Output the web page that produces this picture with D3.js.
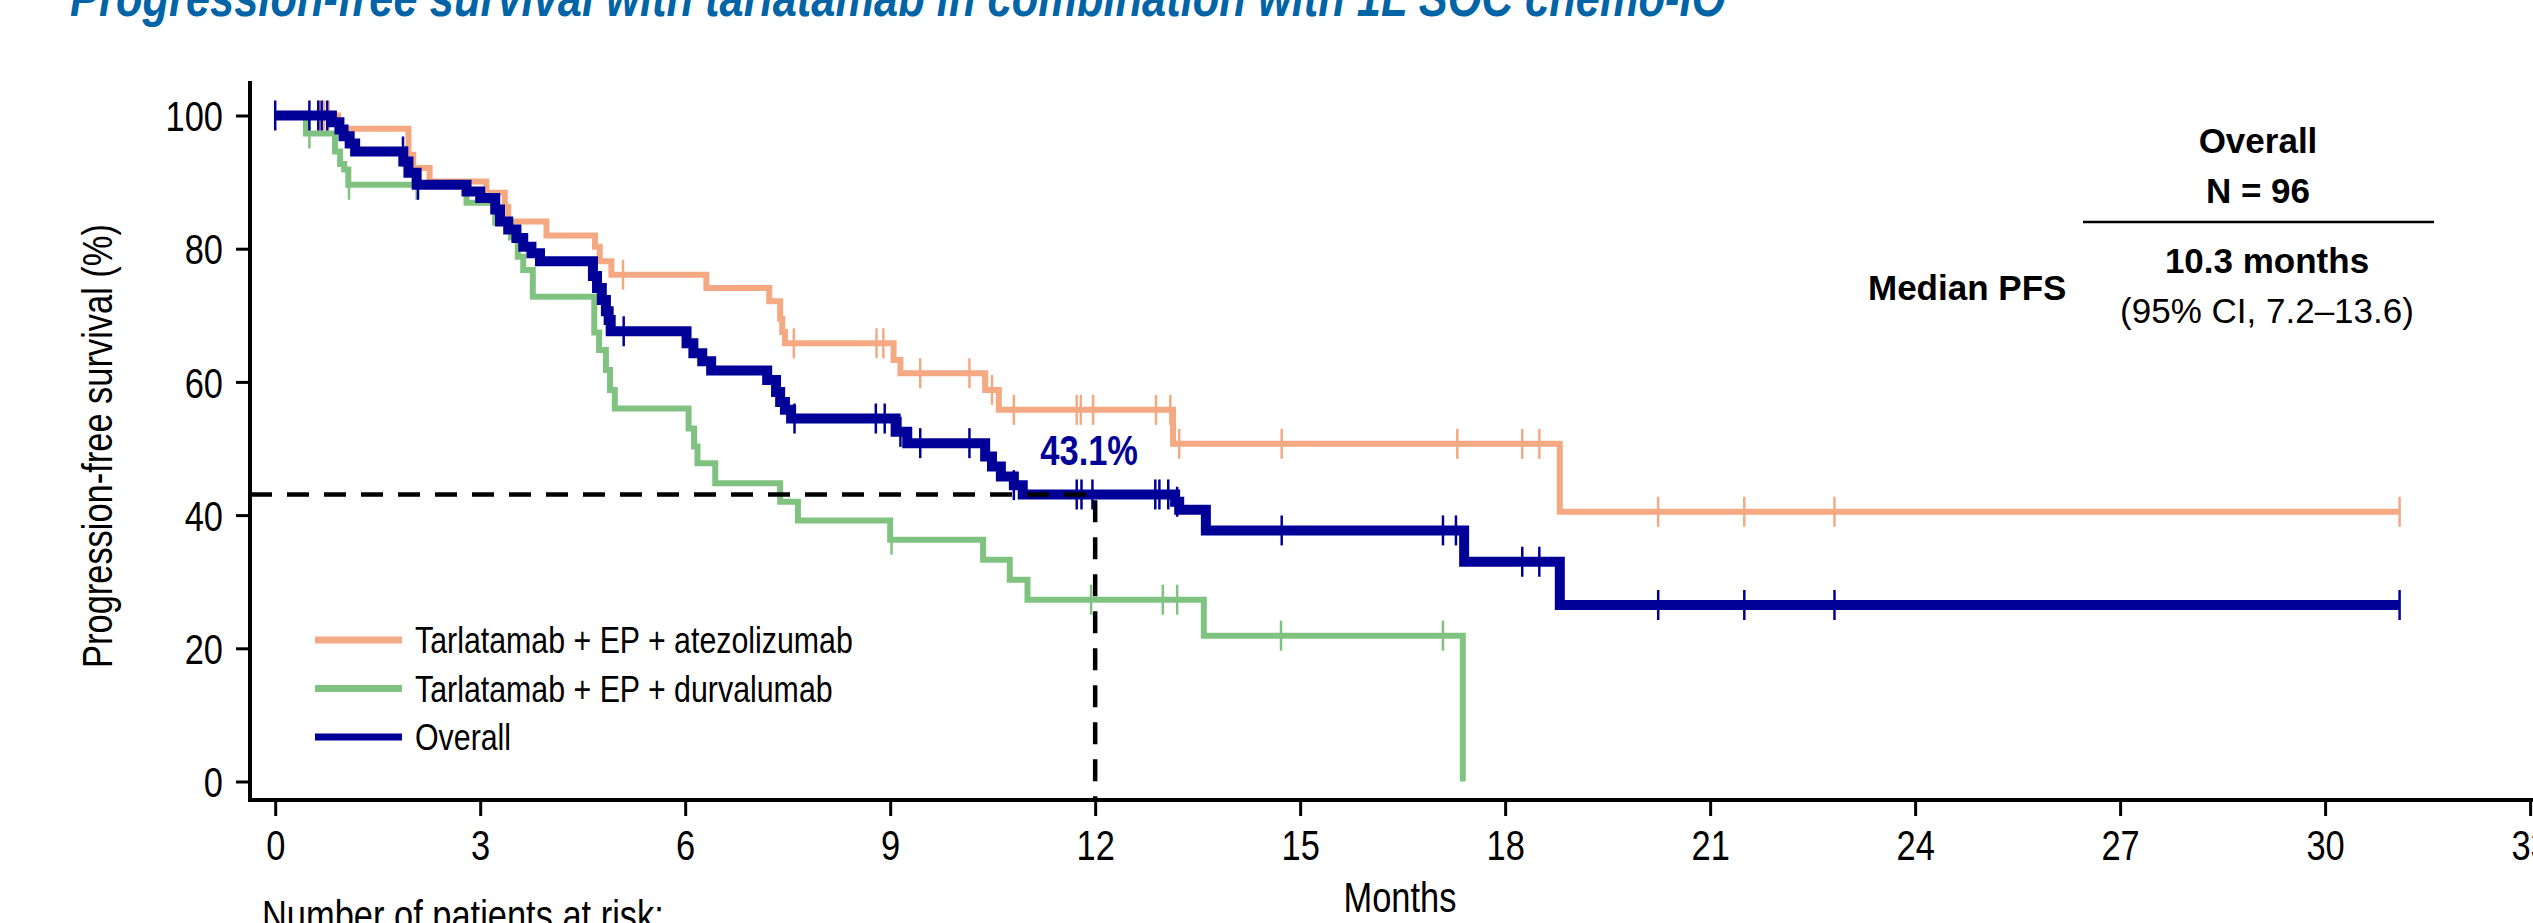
<!DOCTYPE html>
<html>
<head>
<meta charset="utf-8">
<script src="https://cdn.jsdelivr.net/npm/d3@7"></script>
<style>
  body { margin: 0; background: #fff; }
  svg { display: block; }
</style>
</head>
<body>
<div id="chart"></div>
<script>
// KM curves: step times (months) and PFS (%)
const atezoTimes = [0, 0.92, 1.95, 2.02, 2.26, 3.09, 3.36, 3.41, 3.97, 4.68, 4.75, 4.92, 6.31, 7.23, 7.39, 7.42, 7.46, 9.05, 9.15, 10.39, 10.59, 13.14, 18.80, 31.09];
const atezoSurv = [100, 98.0, 94.1, 92.1, 90.1, 88.4, 86.3, 84.1, 82.0, 80.3, 78.1, 76.1, 74.1, 72.1, 69.5, 67.5, 65.8, 63.3, 61.3, 58.8, 55.8, 50.7, 40.5, 40.5];
const atezoCensor = [0.64, 0.71, 0.78, 5.09, 7.59, 8.80, 8.90, 9.44, 10.16, 10.49, 10.81, 11.73, 11.79, 11.97, 12.89, 13.10, 13.23, 14.73, 17.30, 18.25, 18.50, 20.24, 21.50, 22.82, 31.09];

const durvaTimes = [0, 0.45, 0.875, 0.95, 1.01, 1.07, 2.80, 3.22, 3.45, 3.55, 3.63, 3.77, 4.67, 4.74, 4.84, 4.90, 4.97, 6.05, 6.13, 6.18, 6.44, 7.39, 7.65, 9.00, 10.36, 10.75, 11.01, 13.59, 17.38];
const durvaSurv = [100, 97.3, 94.6, 92.7, 91.9, 89.6, 86.9, 83.9, 81.7, 78.8, 76.8, 72.8, 67.4, 64.8, 61.8, 58.8, 56.0, 53.0, 50.3, 47.8, 44.8, 42.0, 39.2, 36.3, 33.3, 30.3, 27.3, 21.9, 0];
const durvaCensor = [0.50, 1.08, 2.07, 9.02, 11.94, 12.99, 13.20, 14.72, 17.09];

const overallTimes = [0, 0.83, 0.94, 1.00, 1.09, 1.17, 1.875, 1.95, 2.07, 2.80, 3.00, 3.22, 3.29, 3.41, 3.53, 3.63, 3.75, 3.875, 4.65, 4.71, 4.78, 4.84, 4.88, 4.91, 6.02, 6.12, 6.25, 6.38, 7.20, 7.33, 7.39, 7.46, 7.55, 9.08, 9.25, 10.39, 10.49, 10.62, 10.81, 10.94, 13.17, 13.23, 13.62, 17.40, 18.80, 31.09];
const overallSurv = [100, 99.0, 97.9, 96.9, 95.8, 94.6, 93.1, 91.4, 89.6, 88.6, 87.6, 85.9, 84.1, 82.9, 81.6, 80.3, 79.3, 78.1, 75.9, 74.1, 72.3, 70.6, 69.3, 67.6, 65.8, 64.3, 63.1, 61.7, 60.3, 58.5, 57.0, 55.8, 54.5, 52.5, 50.8, 48.8, 47.3, 45.8, 44.5, 43.1, 42.0, 40.8, 37.7, 33.0, 26.5, 26.5];
const overallCensor = [0, 0.50, 0.63, 0.68, 0.76, 1.87, 1.92, 2.09, 5.10, 7.60, 8.79, 8.92, 9.15, 9.44, 10.16, 10.81, 11.73, 11.80, 11.96, 12.88, 12.94, 13.07, 13.20, 14.73, 17.09, 17.28, 18.25, 18.50, 20.24, 21.50, 22.82, 31.09];

const legendLabels = ["Tarlatamab + EP + atezolizumab", "Tarlatamab + EP + durvalumab", "Overall"];
const xTicks = [0, 3, 6, 9, 12, 15, 18, 21, 24, 27, 30, 33];
const yTicks = [0, 20, 40, 60, 80, 100];
const landmarkMonth = 12;
const landmarkPfs = 43.1;

const createKMChart = function (targetSelector) {
    const width = 2533;
    const height = 923;
    const font = '"Liberation Sans", Arial, sans-serif';
    const squeeze = 0.82; // no Arial Narrow installed, so condense Liberation Sans

    const orange = "#F4A983";
    const green = "#80C380";
    const navy = "#000099";

    const svg = d3.select(targetSelector)
        .append("svg")
        .attr("width", width)
        .attr("height", height)
        .attr("font-family", font);

    // narrow text helper
    const narrowText = (parent, x, y, str, size) => parent.append("text")
        .attr("transform", `translate(${x},${y}) scale(${squeeze},1)`)
        .attr("font-size", size)
        .text(str);

    const x = d3.scaleLinear().domain([0, 33]).range([275.2, 2530.1]);
    const y = d3.scaleLinear().domain([0, 100]).range([781.5, 115.5]);

    // title (cut off at top in the original)
    narrowText(svg, 70, 16, "Progression-free survival with tarlatamab in combination with 1L SOC chemo-IO", 53)
        .attr("font-weight", "bold")
        .attr("font-style", "italic")
        .attr("fill", "#0064A7");

    // x axis
    svg.append("g")
        .attr("transform", "translate(0,800)")
        .call(d3.axisBottom(x).tickValues(xTicks).tickSize(16).tickSizeOuter(0))
        .call(g => g.select(".domain").remove())
        .call(g => g.selectAll(".tick line").attr("stroke", "#000").attr("stroke-width", 3))
        .call(g => g.selectAll(".tick text")
            .attr("y", 60).attr("dy", 0)
            .attr("transform", `scale(${squeeze},1)`)
            .attr("font-family", font).attr("font-size", 42).attr("fill", "#000"));

    svg.append("line")
        .attr("x1", 250).attr("x2", width)
        .attr("y1", 800).attr("y2", 800)
        .attr("stroke", "#000").attr("stroke-width", 4);

    // y axis
    svg.append("g")
        .attr("transform", "translate(250,0)")
        .call(d3.axisLeft(y).tickValues(yTicks).tickSize(14).tickSizeOuter(0))
        .call(g => g.select(".domain").remove())
        .call(g => g.selectAll(".tick line").attr("stroke", "#000").attr("stroke-width", 3))
        .call(g => g.selectAll(".tick text")
            .attr("x", -27 / squeeze).attr("dy", "0.36em")
            .attr("transform", `scale(${squeeze},1)`)
            .attr("font-family", font).attr("font-size", 42).attr("fill", "#000"));

    svg.append("line")
        .attr("x1", 250).attr("x2", 250)
        .attr("y1", 81).attr("y2", 802)
        .attr("stroke", "#000").attr("stroke-width", 4);

    svg.append("text")
        .attr("transform", `translate(112,446) rotate(-90) scale(${squeeze},1)`)
        .attr("text-anchor", "middle")
        .attr("font-size", 42)
        .text("Progression-free survival (%)");

    narrowText(svg, 1400, 912, "Months", 42).attr("text-anchor", "middle");
    narrowText(svg, 262, 930, "Number of patients at risk:", 42);

    const line = d3.line()
        .curve(d3.curveStepAfter)
        .x(d => x(d[0]))
        .y(d => y(d[1]));

    const series = [
        { times: atezoTimes, surv: atezoSurv, censor: atezoCensor, color: orange, width: 6 },
        { times: durvaTimes, surv: durvaSurv, censor: durvaCensor, color: green, width: 6 },
        { times: overallTimes, surv: overallSurv, censor: overallCensor, color: navy, width: 10 }
    ];

    series.forEach(s => {
        const pts = d3.zip(s.times, s.surv);
        svg.append("path")
            .datum(pts)
            .attr("fill", "none")
            .attr("stroke", s.color)
            .attr("stroke-width", s.width)
            .attr("stroke-linejoin", "miter")
            .attr("d", line);

        const survAt = t => s.surv[Math.max(0, d3.bisectRight(s.times, t) - 1)];
        svg.append("g")
            .selectAll("line")
            .data(s.censor)
            .join("line")
            .attr("x1", d => x(d)).attr("x2", d => x(d))
            .attr("y1", d => y(survAt(d)) - 15)
            .attr("y2", d => y(survAt(d)) + 15)
            .attr("stroke", s.color)
            .attr("stroke-width", 2.5);
    });

    // 12-month landmark
    svg.append("path")
        .attr("fill", "none")
        .attr("stroke", "#000")
        .attr("stroke-width", 4.5)
        .attr("stroke-dasharray", "22,15")
        .attr("d", d3.line()([[250, y(landmarkPfs)], [x(landmarkMonth), y(landmarkPfs)], [x(landmarkMonth), 800]]));

    narrowText(svg, x(landmarkMonth) - 6, 465, landmarkPfs.toFixed(1) + "%", 42)
        .attr("text-anchor", "middle")
        .attr("font-weight", "bold")
        .attr("fill", navy);

    // legend
    const legend = svg.append("g")
        .selectAll("g")
        .data(legendLabels)
        .join("g")
        .attr("transform", (d, i) => `translate(315,${640 + i * 48.5})`);

    legend.append("line")
        .attr("x1", 0).attr("x2", 87)
        .attr("stroke", (d, i) => series[i].color)
        .attr("stroke-width", 7);

    legend.each(function (d) {
        narrowText(d3.select(this), 100, 13, d, 37);
    });

    // median PFS table
    const table = svg.append("g")
        .attr("font-size", 35);

    table.append("text")
        .attr("x", 2258).attr("y", 153)
        .attr("text-anchor", "middle").attr("font-weight", "bold")
        .text("Overall");
    table.append("text")
        .attr("x", 2258).attr("y", 203)
        .attr("text-anchor", "middle").attr("font-weight", "bold")
        .text("N = 96");
    table.append("line")
        .attr("x1", 2083).attr("x2", 2434)
        .attr("y1", 222).attr("y2", 222)
        .attr("stroke", "#000").attr("stroke-width", 2.5);
    table.append("text")
        .attr("x", 2267).attr("y", 273)
        .attr("text-anchor", "middle").attr("font-weight", "bold")
        .text("10.3 months");
    table.append("text")
        .attr("x", 2267).attr("y", 323)
        .attr("text-anchor", "middle")
        .text("(95% CI, 7.2\u201313.6)");
    table.append("text")
        .attr("x", 1868).attr("y", 300)
        .attr("font-weight", "bold")
        .text("Median PFS");
}

createKMChart("#chart");
</script>
</body>
</html>
